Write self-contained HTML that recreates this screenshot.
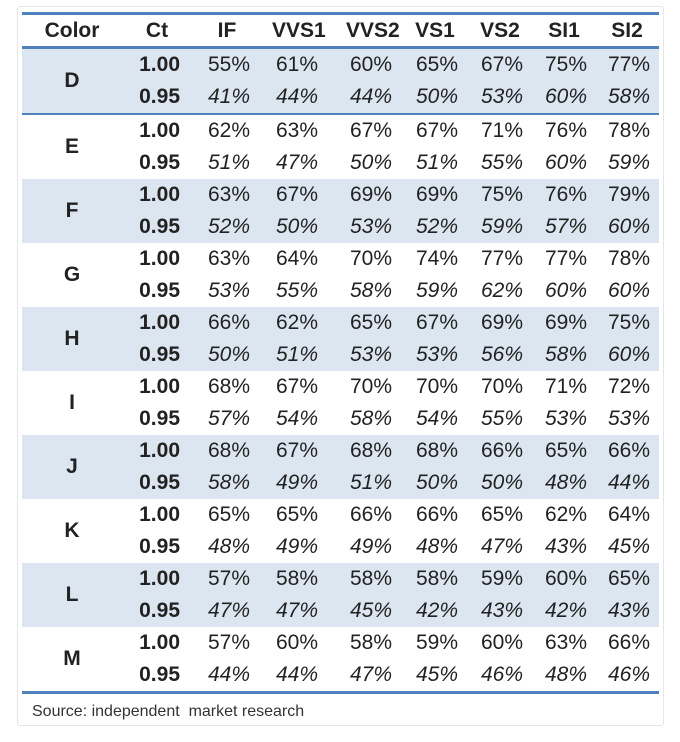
<!DOCTYPE html>
<html><head><style>
body{margin:0;width:680px;height:742px;background:#fff;font-family:"Liberation Sans",sans-serif;position:relative;overflow:hidden}
.box{position:absolute;left:17px;top:6px;width:645px;height:718px;border:1px solid #e4e6ea;border-radius:3px;background:#fff}
table{position:absolute;left:22px;top:12px;border-collapse:collapse;table-layout:fixed;width:637px}
td,th{padding:0;height:32px;color:#222;font-size:21px;text-align:right;white-space:nowrap}
th{height:31px;font-weight:bold;border-top:3px solid #4f81bd;border-bottom:3px solid #4f81bd}
th span,td span{display:inline-block;width:46px;text-align:center}
td span{text-align:right}
td.c{text-align:center;font-weight:bold;font-size:21px}
tr.s td{background:#dce6f1}
td.ct{font-weight:bold}
tr.b td{font-style:italic}
tr.b td.ct,tr.b td.c{font-style:normal}
tr.last td{border-bottom:3px solid #4f81bd}
.src{position:absolute;left:32px;top:703px;font-size:16px;color:#333}
</style></head><body>
<div class="box"></div>
<table>
<colgroup><col style="width:100px"><col style="width:58px"><col style="width:70px"><col style="width:68px"><col style="width:74px"><col style="width:66px"><col style="width:65px"><col style="width:64px"><col style="width:72px"></colgroup>
<tr><th style="text-align:center">Color</th><th><span>Ct</span></th><th><span>IF</span></th><th><span>VVS1</span></th><th><span>VVS2</span></th><th><span>VS1</span></th><th><span>VS2</span></th><th><span>SI1</span></th><th style="padding-right:9px"><span>SI2</span></th></tr>
<tr class="s"><td class="c" rowspan="2" style="background:#dce6f1">D</td><td class="ct">1.00</td><td><span>55%</span></td><td><span>61%</span></td><td><span>60%</span></td><td><span>65%</span></td><td><span>67%</span></td><td><span>75%</span></td><td style="padding-right:9px"><span>77%</span></td></tr>
<tr class="s b"><td class="ct">0.95</td><td><span>41%</span></td><td><span>44%</span></td><td><span>44%</span></td><td><span>50%</span></td><td><span>53%</span></td><td><span>60%</span></td><td style="padding-right:9px"><span>58%</span></td></tr>
<tr><td class="c" rowspan="2" style="border-top:2px solid #4f81bd">E</td><td class="ct" style="border-top:2px solid #4f81bd">1.00</td><td style="border-top:2px solid #4f81bd"><span>62%</span></td><td style="border-top:2px solid #4f81bd"><span>63%</span></td><td style="border-top:2px solid #4f81bd"><span>67%</span></td><td style="border-top:2px solid #4f81bd"><span>67%</span></td><td style="border-top:2px solid #4f81bd"><span>71%</span></td><td style="border-top:2px solid #4f81bd"><span>76%</span></td><td style="padding-right:9px;border-top:2px solid #4f81bd"><span>78%</span></td></tr>
<tr class="b"><td class="ct">0.95</td><td><span>51%</span></td><td><span>47%</span></td><td><span>50%</span></td><td><span>51%</span></td><td><span>55%</span></td><td><span>60%</span></td><td style="padding-right:9px"><span>59%</span></td></tr>
<tr class="s"><td class="c" rowspan="2" style="background:#dce6f1">F</td><td class="ct">1.00</td><td><span>63%</span></td><td><span>67%</span></td><td><span>69%</span></td><td><span>69%</span></td><td><span>75%</span></td><td><span>76%</span></td><td style="padding-right:9px"><span>79%</span></td></tr>
<tr class="s b"><td class="ct">0.95</td><td><span>52%</span></td><td><span>50%</span></td><td><span>53%</span></td><td><span>52%</span></td><td><span>59%</span></td><td><span>57%</span></td><td style="padding-right:9px"><span>60%</span></td></tr>
<tr><td class="c" rowspan="2">G</td><td class="ct">1.00</td><td><span>63%</span></td><td><span>64%</span></td><td><span>70%</span></td><td><span>74%</span></td><td><span>77%</span></td><td><span>77%</span></td><td style="padding-right:9px"><span>78%</span></td></tr>
<tr class="b"><td class="ct">0.95</td><td><span>53%</span></td><td><span>55%</span></td><td><span>58%</span></td><td><span>59%</span></td><td><span>62%</span></td><td><span>60%</span></td><td style="padding-right:9px"><span>60%</span></td></tr>
<tr class="s"><td class="c" rowspan="2" style="background:#dce6f1">H</td><td class="ct">1.00</td><td><span>66%</span></td><td><span>62%</span></td><td><span>65%</span></td><td><span>67%</span></td><td><span>69%</span></td><td><span>69%</span></td><td style="padding-right:9px"><span>75%</span></td></tr>
<tr class="s b"><td class="ct">0.95</td><td><span>50%</span></td><td><span>51%</span></td><td><span>53%</span></td><td><span>53%</span></td><td><span>56%</span></td><td><span>58%</span></td><td style="padding-right:9px"><span>60%</span></td></tr>
<tr><td class="c" rowspan="2">I</td><td class="ct">1.00</td><td><span>68%</span></td><td><span>67%</span></td><td><span>70%</span></td><td><span>70%</span></td><td><span>70%</span></td><td><span>71%</span></td><td style="padding-right:9px"><span>72%</span></td></tr>
<tr class="b"><td class="ct">0.95</td><td><span>57%</span></td><td><span>54%</span></td><td><span>58%</span></td><td><span>54%</span></td><td><span>55%</span></td><td><span>53%</span></td><td style="padding-right:9px"><span>53%</span></td></tr>
<tr class="s"><td class="c" rowspan="2" style="background:#dce6f1">J</td><td class="ct">1.00</td><td><span>68%</span></td><td><span>67%</span></td><td><span>68%</span></td><td><span>68%</span></td><td><span>66%</span></td><td><span>65%</span></td><td style="padding-right:9px"><span>66%</span></td></tr>
<tr class="s b"><td class="ct">0.95</td><td><span>58%</span></td><td><span>49%</span></td><td><span>51%</span></td><td><span>50%</span></td><td><span>50%</span></td><td><span>48%</span></td><td style="padding-right:9px"><span>44%</span></td></tr>
<tr><td class="c" rowspan="2">K</td><td class="ct">1.00</td><td><span>65%</span></td><td><span>65%</span></td><td><span>66%</span></td><td><span>66%</span></td><td><span>65%</span></td><td><span>62%</span></td><td style="padding-right:9px"><span>64%</span></td></tr>
<tr class="b"><td class="ct">0.95</td><td><span>48%</span></td><td><span>49%</span></td><td><span>49%</span></td><td><span>48%</span></td><td><span>47%</span></td><td><span>43%</span></td><td style="padding-right:9px"><span>45%</span></td></tr>
<tr class="s"><td class="c" rowspan="2" style="background:#dce6f1">L</td><td class="ct">1.00</td><td><span>57%</span></td><td><span>58%</span></td><td><span>58%</span></td><td><span>58%</span></td><td><span>59%</span></td><td><span>60%</span></td><td style="padding-right:9px"><span>65%</span></td></tr>
<tr class="s b"><td class="ct">0.95</td><td><span>47%</span></td><td><span>47%</span></td><td><span>45%</span></td><td><span>42%</span></td><td><span>43%</span></td><td><span>42%</span></td><td style="padding-right:9px"><span>43%</span></td></tr>
<tr><td class="c" rowspan="2" style="border-bottom:3px solid #4f81bd">M</td><td class="ct">1.00</td><td><span>57%</span></td><td><span>60%</span></td><td><span>58%</span></td><td><span>59%</span></td><td><span>60%</span></td><td><span>63%</span></td><td style="padding-right:9px"><span>66%</span></td></tr>
<tr class="b last"><td class="ct">0.95</td><td><span>44%</span></td><td><span>44%</span></td><td><span>47%</span></td><td><span>45%</span></td><td><span>46%</span></td><td><span>48%</span></td><td style="padding-right:9px"><span>46%</span></td></tr>
</table>
<div class="src">Source: independent&nbsp; market research</div>
</body></html>
